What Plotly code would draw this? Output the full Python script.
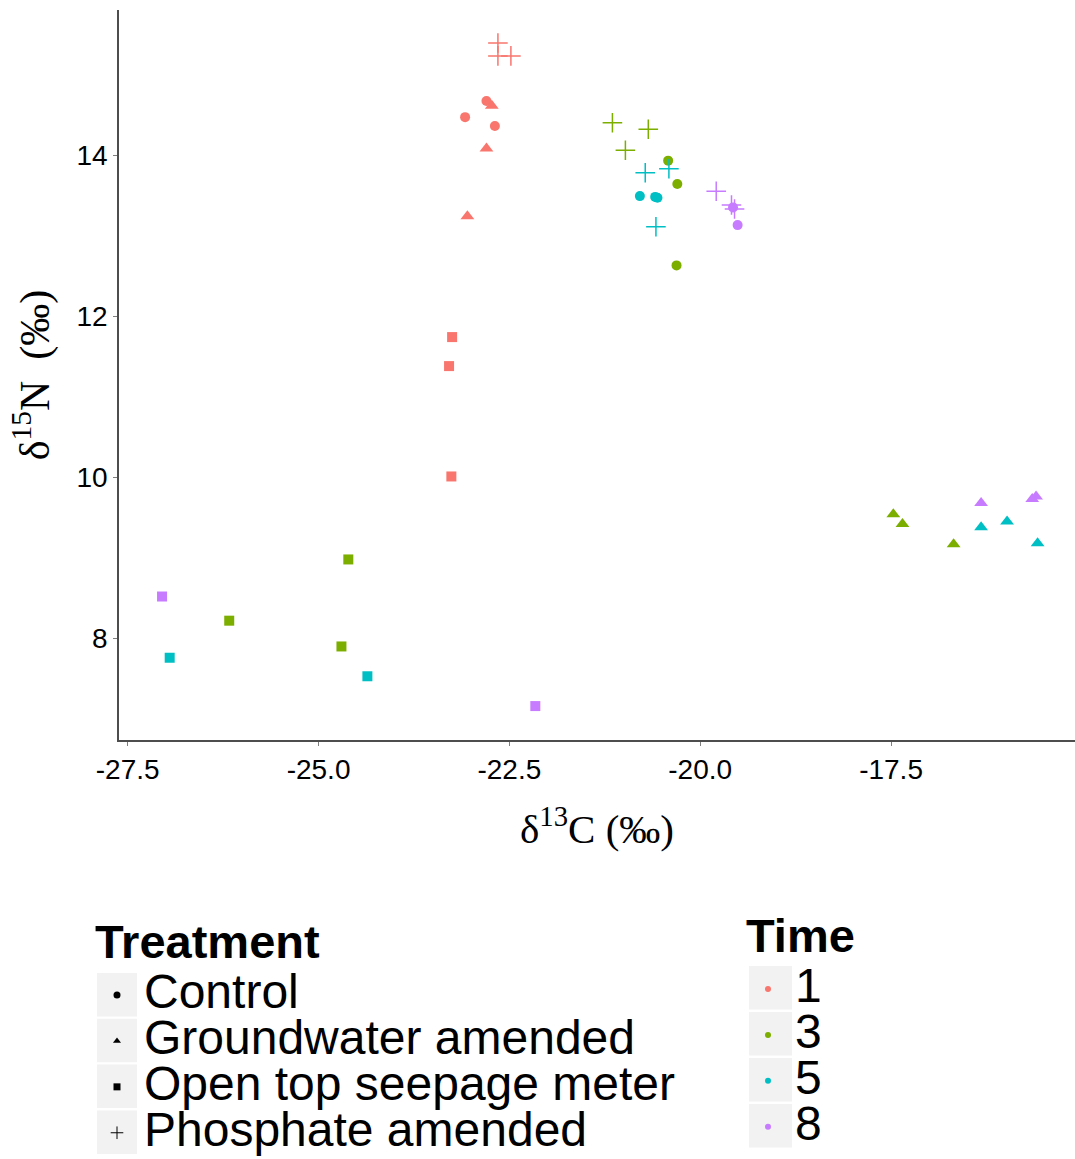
import plotly.graph_objects as go

# ---------------- data ----------------
times = ["1", "3", "5", "8"]
time_colors = ["#F8766D", "#7CAE00", "#00BFC4", "#C77CFF"]
treatments = ["Control", "Groundwater amended", "Open top seepage meter", "Phosphate amended"]
treat_symbols = ["circle", "triangle-up", "square", "cross-thin-open"]

# d13C (x) and d15N (y) per time and treatment
t1_control_x = [-22.80, -23.08, -22.69]
t1_control_y = [14.67, 14.47, 14.36]
t1_ground_x = [-22.73, -22.80, -23.05]
t1_ground_y = [14.61, 14.08, 13.24]
t1_open_x = [-23.25, -23.29, -23.26]
t1_open_y = [11.74, 11.38, 10.01]
t1_phos_x = [-22.65, -22.65, -22.48]
t1_phos_y = [15.39, 15.23, 15.23]

t3_control_x = [-20.42, -20.30, -20.31]
t3_control_y = [13.93, 13.64, 12.63]
t3_ground_x = [-17.47, -17.35, -16.68]
t3_ground_y = [9.54, 9.42, 9.17]
t3_open_x = [-24.61, -26.17, -24.70]
t3_open_y = [8.98, 8.22, 7.90]
t3_phos_x = [-21.15, -20.68, -20.98]
t3_phos_y = [14.40, 14.32, 14.06]

t5_control_x = [-20.79, -20.59, -20.56]
t5_control_y = [13.49, 13.48, 13.47]
t5_ground_x = [-16.32, -15.98, -15.58]
t5_ground_y = [9.38, 9.45, 9.18]
t5_open_x = [-26.95, -24.36]
t5_open_y = [7.76, 7.53]
t5_phos_x = [-20.72, -20.41, -20.58]
t5_phos_y = [13.78, 13.83, 13.11]

t8_control_x = [-19.57, -19.51]
t8_control_y = [13.35, 13.13]
t8_ground_x = [-16.32, -15.65, -15.60]
t8_ground_y = [9.68, 9.73, 9.76]
t8_open_x = [-27.05, -22.16]
t8_open_y = [8.52, 7.16]
t8_phos_x = [-19.79, -19.59, -19.55]
t8_phos_y = [13.55, 13.38, 13.33]

x_ticks = [-27.5, -25.0, -22.5, -20.0, -17.5]
x_tick_labels = ["-27.5", "-25.0", "-22.5", "-20.0", "-17.5"]
y_ticks = [8, 10, 12, 14]
y_tick_labels = ["8", "10", "12", "14"]

series = {
    "1": [(t1_control_x, t1_control_y), (t1_ground_x, t1_ground_y), (t1_open_x, t1_open_y), (t1_phos_x, t1_phos_y)],
    "3": [(t3_control_x, t3_control_y), (t3_ground_x, t3_ground_y), (t3_open_x, t3_open_y), (t3_phos_x, t3_phos_y)],
    "5": [(t5_control_x, t5_control_y), (t5_ground_x, t5_ground_y), (t5_open_x, t5_open_y), (t5_phos_x, t5_phos_y)],
    "8": [(t8_control_x, t8_control_y), (t8_ground_x, t8_ground_y), (t8_open_x, t8_open_y), (t8_phos_x, t8_phos_y)],
}

sizes = {"circle": 10, "triangle-up": 12, "square": 10, "cross-thin-open": 14}

fig = go.Figure()

for t, col in zip(times, time_colors):
    for (xs, ys), tr, sym in zip(series[t], treatments, treat_symbols):
        fig.add_trace(go.Scatter(
            x=xs, y=ys, mode="markers", showlegend=False,
            name=f"{tr}, {t}",
            marker=dict(symbol=sym, size=sizes[sym], color=col,
                        line=dict(width=1.5 if sym == "cross-thin-open" else 0, color=col)),
        ))

ITEM = '<span style="font-size:48px">%s</span>'
GTITLE_FONT = dict(size=47, family="Liberation Sans, Arial", color="black")

# legend: Treatment (shapes)
for i, (tr, sym) in enumerate(zip(treatments, treat_symbols)):
    fig.add_trace(go.Scatter(
        x=[None], y=[None], mode="markers", name=ITEM % tr, legend="legend",
        legendgroup="treatment",
        legendgrouptitle=dict(text="<b>Treatment</b>", font=GTITLE_FONT) if i == 0 else None,
        marker=dict(symbol=sym, size=7 if sym != "cross-thin-open" else 9, color="black",
                    line=dict(width=1 if sym == "cross-thin-open" else 0, color="black")),
    ))
# legend: Time (colours)
for i, (t, col) in enumerate(zip(times, time_colors)):
    fig.add_trace(go.Scatter(
        x=[None], y=[None], mode="markers", name=ITEM % t, legend="legend2",
        legendgroup="time",
        legendgrouptitle=dict(text="<b>Time</b>", font=GTITLE_FONT) if i == 0 else None,
        marker=dict(symbol="circle", size=6, color=col),
    ))

PW, PH = 956.0, 730.0  # plot area size in px
def px_x(p):
    return (p - 119) / PW
def px_y(p):
    return (740 - p) / PH

# grey key backgrounds (ggplot legend.key)
shapes = []
for i in range(4):
    top = 973 + i * 45.8
    shapes.append(dict(type="rect", xref="paper", yref="paper", layer="below",
                       x0=px_x(97), x1=px_x(137), y0=px_y(top), y1=px_y(top + 43.5),
                       fillcolor="#F2F2F2", line=dict(width=0)))
    top2 = 966 + i * 46
    shapes.append(dict(type="rect", xref="paper", yref="paper", layer="below",
                       x0=px_x(749), x1=px_x(792), y0=px_y(top2), y1=px_y(top2 + 43.5),
                       fillcolor="#F2F2F2", line=dict(width=0)))

LEG_FONT = dict(size=33, family="Liberation Sans, Arial", color="black")
fig.update_layout(
    width=1075, height=1159,
    margin=dict(l=119, r=0, t=10, b=419, autoexpand=False),
    plot_bgcolor="white", paper_bgcolor="white",
    font=dict(family="Liberation Sans, Arial", color="black"),
    shapes=shapes,
    legend=dict(
        font=LEG_FONT, x=px_x(90), y=px_y(903), xanchor="left", yanchor="top",
        bgcolor="rgba(0,0,0,0)", itemwidth=44, tracegroupgap=0,
        itemclick=False, itemdoubleclick=False,
    ),
    legend2=dict(
        font=LEG_FONT, x=px_x(741), y=px_y(897), xanchor="left", yanchor="top",
        bgcolor="rgba(0,0,0,0)", itemwidth=44, tracegroupgap=0,
        itemclick=False, itemdoubleclick=False,
    ),
    xaxis=dict(
        range=[-27.614, -15.09], tickvals=x_ticks, ticktext=x_tick_labels,
        showgrid=False, zeroline=False, showline=True, linecolor="#4d4d4d", linewidth=1.5,
        ticks="outside", ticklen=4, tickcolor="#7f7f7f", tickwidth=1.2,
        tickfont=dict(size=28, family="Liberation Sans, Arial", color="black"),
        title=dict(text="δ<sup>13</sup>C (‰)", standoff=30,
                   font=dict(size=41, family="Liberation Serif, Times New Roman", color="black")),
        automargin=False,
    ),
    yaxis=dict(
        range=[6.739, 15.80], tickvals=y_ticks, ticktext=y_tick_labels,
        showgrid=False, zeroline=False, showline=True, linecolor="#4d4d4d", linewidth=1.5,
        ticks="outside", ticklen=4, tickcolor="#7f7f7f", tickwidth=1.2,
        tickfont=dict(size=28, family="Liberation Sans, Arial", color="black"),
        title=dict(text="δ<sup>15</sup>N  (‰)", standoff=14,
                   font=dict(size=42, family="Liberation Serif, Times New Roman", color="black")),
        automargin=False,
    ),
)

fig.write_html("out.html", config={"displayModeBar": False},
               post_script="document.body.style.margin='0';")
